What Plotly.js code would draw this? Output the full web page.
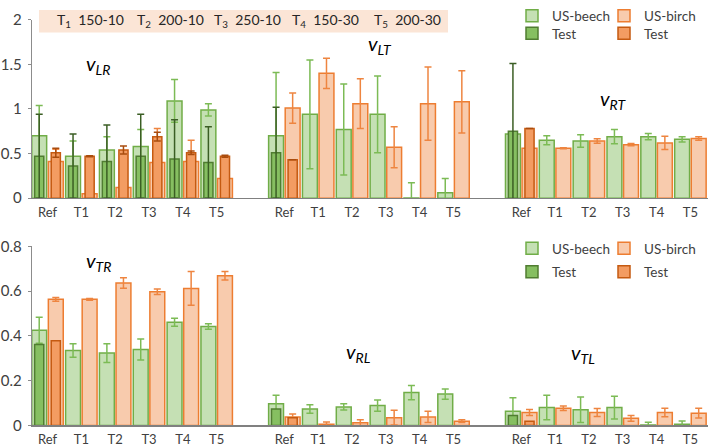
<!DOCTYPE html>
<html><head><meta charset="utf-8">
<script src="https://cdn.plot.ly/plotly-3.0.1.min.js"></script>
<style>html,body{margin:0;padding:0;background:#fff}#chart{width:708px;height:446px}</style>
</head><body><div id="chart"></div>
<script>
// ---------- DATA ----------
const categories = ['Ref', 'T1', 'T2', 'T3', 'T4', 'T5'];
const topGroupNames = ['LR', 'LT', 'RT'];
const bottomGroupNames = ['TR', 'RL', 'TL'];
const treatmentLabels = ['150-10', '200-10', '250-10', '150-30', '200-30'];

// top panel
const vLR_beech = [0.70, 0.47, 0.54, 0.58, 1.09, 0.99];
const vLR_beechErr = [0.34, 0.17, 0.15, 0.19, 0.24, 0.07];
const vLR_birch = [0.41, 0.05, 0.12, 0.40, 0.41, 0.22];
const vLR_birchErr = [0.14, 0.11, 0.15, 0.38, 0.24, 0.03];
const vLR_testBeech = [0.47, 0.36, 0.41, 0.47, 0.44, 0.40];
const vLR_testBeechErr = [0.47, 0.36, 0.41, 0.47, 0.44, 0.40];
const vLR_testBirch = [0.51, 0.47, 0.54, 0.69, 0.51, 0.47];
const vLR_testBirchErr = [0.05, 0.005, 0.045, 0.05, 0.02, 0.01];

const vLT_beech = [0.70, 0.94, 0.77, 0.94, 0.003, 0.06];
const vLT_beechErr = [0.71, 0.61, 0.51, 0.43, 0.17, 0.16];
const vLT_birch = [1.01, 1.40, 1.06, 0.57, 1.06, 1.08];
const vLT_birchErr = [0.17, 0.17, 0.28, 0.23, 0.41, 0.35];
const vLT_testBeech = [0.51, null, null, null, null, null];
const vLT_testBeechErr = [0.51, null, null, null, null, null];
const vLT_testBirch = [0.43, null, null, null, null, null];
const vLT_testBirchErr = [0, null, null, null, null, null];

const vRT_beech = [0.72, 0.65, 0.64, 0.69, 0.69, 0.66];
const vRT_beechErr = [0, 0.05, 0.07, 0.08, 0.035, 0.03];
const vRT_birch = [0.56, 0.56, 0.64, 0.60, 0.62, 0.67];
const vRT_birchErr = [0, 0.005, 0.025, 0.012, 0.075, 0.02];
const vRT_testBeech = [0.75, null, null, null, null, null];
const vRT_testBeechErr = [0.76, null, null, null, null, null];
const vRT_testBirch = [0.78, null, null, null, null, null];
const vRT_testBirchErr = [0, null, null, null, null, null];

// bottom panel
const vTR_beech = [0.425, 0.335, 0.323, 0.339, 0.461, 0.442];
const vTR_beechErr = [0.058, 0.03, 0.042, 0.047, 0.018, 0.012];
const vTR_birch = [0.563, 0.563, 0.636, 0.597, 0.612, 0.668];
const vTR_birchErr = [0.008, 0.004, 0.023, 0.012, 0.075, 0.019];
const vTR_testBeech = [0.361, null, null, null, null, null];
const vTR_testBirch = [0.378, null, null, null, null, null];

const vRL_beech = [0.097, 0.073, 0.083, 0.089, 0.147, 0.140];
const vRL_beechErr = [0.038, 0.019, 0.014, 0.025, 0.032, 0.023];
const vRL_birch = [0.038, 0.006, 0.012, 0.035, 0.038, 0.019];
const vRL_birchErr = [0.013, 0.009, 0.013, 0.033, 0.025, 0.006];
const vRL_testBeech = [0.073, null, null, null, null, null];
const vRL_testBirch = [0.034, null, null, null, null, null];

const vTL_beech = [0.064, 0.080, 0.070, 0.080, 0.002, 0.005];
const vTL_beechErr = [0.06, 0.055, 0.057, 0.051, 0.012, 0.015];
const vTL_birch = [0.058, 0.077, 0.058, 0.032, 0.058, 0.055];
const vTL_birchErr = [0.013, 0.01, 0.018, 0.013, 0.019, 0.022];
const vTL_testBeech = [0.044, null, null, null, null, null];
const vTL_testBirch = [0.019, null, null, null, null, null];

// ---------- STYLE ----------
const FONT = 'Lato, Carlito, "Open Sans", sans-serif';
const W = 708, H = 446, ML = 32;
const groupStarts = [0, 7, 14];
const S = {
  beech: {fill: '#C5E0B4', line: '#70AD47', err: '#7CBB55', offset: -0.465, width: 0.44},
  birch: {fill: '#F8CBAD', line: '#ED7D31', err: '#EE8540', offset: 0.025, width: 0.44},
  testBeech: {fill: '#86BF61', line: '#507D31', err: '#3B5E24', offset: -0.38, width: 0.27},
  testBirch: {fill: '#F39C62', line: '#C55A11', err: '#A94C0E', offset: 0.11, width: 0.27}
};

function concatGroups(arrs) { return [].concat(...arrs); }
const xPos = concatGroups(groupStarts.map(g => categories.map((c, i) => g + i)));
const xTickText = concatGroups(groupStarts.map(() => categories));

function barTrace(name, style, yArr, errArr, xa, ya, legendId, showLeg) {
  const t = {
    type: 'bar', name: name, x: xPos, y: yArr,
    xaxis: xa, yaxis: ya,
    offset: style.offset, width: style.width,
    marker: {color: style.fill, line: {color: style.line, width: 1.5}},
    legend: legendId, showlegend: showLeg, hoverinfo: 'y'
  };
  if (errArr) {
    t.error_y = {type: 'data', array: errArr, symmetric: true, visible: true,
      color: style.err, thickness: 1.5, width: 3.5};
  }
  return t;
}

const traces = [
  // top panel
  barTrace('US-beech', S.beech, concatGroups([vLR_beech, vLT_beech, vRT_beech]),
    concatGroups([vLR_beechErr, vLT_beechErr, vRT_beechErr]), 'x', 'y', 'legend', true),
  barTrace('US-birch', S.birch, concatGroups([vLR_birch, vLT_birch, vRT_birch]),
    concatGroups([vLR_birchErr, vLT_birchErr, vRT_birchErr]), 'x', 'y', 'legend', true),
  barTrace('Test', S.testBeech, concatGroups([vLR_testBeech, vLT_testBeech, vRT_testBeech]),
    concatGroups([vLR_testBeechErr, vLT_testBeechErr, vRT_testBeechErr]), 'x', 'y', 'legend2', true),
  barTrace('Test', S.testBirch, concatGroups([vLR_testBirch, vLT_testBirch, vRT_testBirch]),
    concatGroups([vLR_testBirchErr, vLT_testBirchErr, vRT_testBirchErr]), 'x', 'y', 'legend2', true),
  // bottom panel
  barTrace('US-beech', S.beech, concatGroups([vTR_beech, vRL_beech, vTL_beech]),
    concatGroups([vTR_beechErr, vRL_beechErr, vTL_beechErr]), 'x2', 'y2', 'legend3', true),
  barTrace('US-birch', S.birch, concatGroups([vTR_birch, vRL_birch, vTL_birch]),
    concatGroups([vTR_birchErr, vRL_birchErr, vTL_birchErr]), 'x2', 'y2', 'legend3', true),
  barTrace('Test', S.testBeech, concatGroups([vTR_testBeech, vRL_testBeech, vTL_testBeech]),
    null, 'x2', 'y2', 'legend4', true),
  barTrace('Test', S.testBirch, concatGroups([vTR_testBirch, vRL_testBirch, vTL_testBirch]),
    null, 'x2', 'y2', 'legend4', true)
];

// pixel -> paper coordinates (paper x spans the plot area: margin l=ML, r=0)
const px = v => (v - ML) / (W - ML);
const py = v => 1 - v / H;

const xRange = [-0.458, 19.52];
function xAxis(anchor) {
  return {
    domain: [0, 1], range: xRange, anchor: anchor,
    tickmode: 'array', tickvals: xPos, ticktext: xTickText,
    showline: true, linecolor: '#808080', linewidth: 1.3,
    ticks: '', showgrid: false, zeroline: false,
    tickfont: {family: FONT, size: 13, color: '#404040'},
    ticklabelstandoff: 2, fixedrange: true
  };
}
function yAxis(anchor, domain, range, dtick) {
  return {
    domain: domain, range: range, dtick: dtick, anchor: anchor,
    showline: true, linecolor: '#8c8c8c', linewidth: 1.3,
    ticks: 'outside', ticklen: 3, tickcolor: '#8c8c8c', tickwidth: 1,
    showgrid: false, zeroline: false,
    tickfont: {family: FONT, size: 15, color: '#404040'},
    ticklabelstandoff: 3, fixedrange: true
  };
}

function legendAt(xPx, yPx) {
  return {
    orientation: 'h', x: px(xPx), y: py(yPx), xanchor: 'left', yanchor: 'middle',
    entrywidth: 47, entrywidthmode: 'pixels', itemwidth: 30,
    bgcolor: 'rgba(0,0,0,0)', borderwidth: 0, tracegroupgap: 0,
    font: {family: FONT, size: 13.5, color: '#404040'}
  };
}

const groupLabelPos = [
  {g: topGroupNames[0], x: 98, y: 56},
  {g: topGroupNames[1], x: 380, y: 35},
  {g: topGroupNames[2], x: 613, y: 92},
  {g: bottomGroupNames[0], x: 98, y: 257},
  {g: bottomGroupNames[1], x: 358, y: 350},
  {g: bottomGroupNames[2], x: 583, y: 351}
];
const annotations = groupLabelPos.map(p => ({
  xref: 'paper', yref: 'paper', x: px(p.x), y: py(p.y),
  xanchor: 'center', yanchor: 'middle', showarrow: false,
  text: '<i>v<sub>' + p.g + '</sub></i>',
  font: {family: FONT, size: 20, color: '#000000'}
}));

const bandTextX = [55, 135, 212, 290, 372];
treatmentLabels.forEach((t, i) => {
  annotations.push({
    xref: 'paper', yref: 'paper', x: px(bandTextX[i]), y: py(11),
    xanchor: 'left', yanchor: 'middle', showarrow: false,
    text: 'T<sub>' + (i + 1) + '</sub>  ' + t,
    font: {family: FONT, size: 14, color: '#262626'}
  });
});

const layout = {
  width: W, height: H,
  margin: {l: ML, r: 0, t: 0, b: 0, pad: 0},
  paper_bgcolor: '#ffffff', plot_bgcolor: 'rgba(0,0,0,0)',
  barmode: 'overlay',
  font: {family: FONT, color: '#404040'},
  xaxis: xAxis('y'),
  yaxis: yAxis('x', [py(192.5), py(10)], [0, 2], 0.5),
  xaxis2: xAxis('y2'),
  yaxis2: yAxis('x2', [py(425), py(241.7)], [0, 0.8], 0.2),
  legend: legendAt(512, 6),
  legend2: legendAt(512, 24),
  legend3: legendAt(512, 244),
  legend4: legendAt(512, 268),
  shapes: [{
    type: 'rect', xref: 'paper', yref: 'paper', layer: 'below',
    x0: px(39), x1: px(448), y0: py(23), y1: py(0),
    fillcolor: '#FBE5D6', line: {width: 0}
  }],
  annotations: annotations
};

Plotly.newPlot('chart', traces, layout, {displayModeBar: false, staticPlot: true});
</script>
</body></html>
